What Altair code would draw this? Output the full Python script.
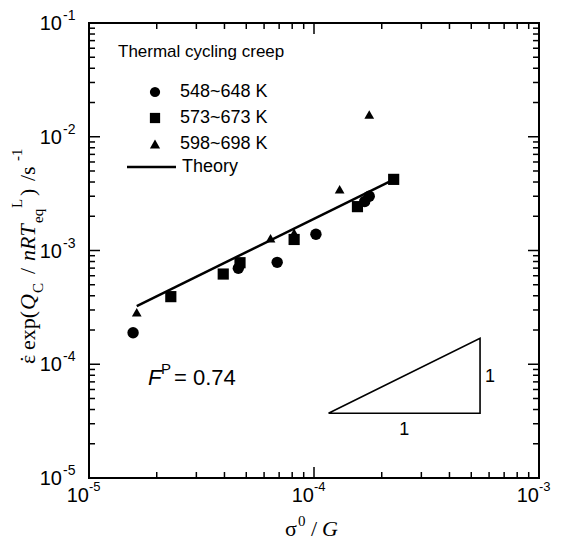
import altair as alt
import pandas as pd

# ---------------- data ----------------
series = ["548~648 K", "573~673 K", "598~698 K"]

s1_x = [1.57e-5, 4.61e-5, 6.86e-5, 1.02e-4, 1.68e-4, 1.76e-4]
s1_y = [1.89e-4, 6.97e-4, 7.87e-4, 1.39e-3, 2.70e-3, 3.00e-3]

s2_x = [2.31e-5, 3.95e-5, 4.69e-5, 8.16e-5, 1.56e-4, 2.26e-4]
s2_y = [3.93e-4, 6.21e-4, 7.81e-4, 1.25e-3, 2.43e-3, 4.22e-3]

s3_x = [1.63e-5, 6.41e-5, 8.16e-5, 1.30e-4, 1.76e-4]
s3_y = [2.86e-4, 1.28e-3, 1.43e-3, 3.45e-3, 1.57e-2]

theory_x = [1.63e-5, 2.27e-4]
theory_y = [3.25e-4, 4.22e-3]

tri_x = [1.16e-4, 5.47e-4, 5.47e-4, 1.16e-4]
tri_y = [3.71e-5, 3.71e-5, 1.69e-4, 3.71e-5]
tri_lab_x = [2.52e-4, 6.05e-4]
tri_lab_y = [2.64e-5, 7.67e-5]
tri_lab = ["1", "1"]

x_major = [1e-5, 1e-4, 1e-3]
x_exp = ["-5", "-4", "-3"]
y_major = [1e-5, 1e-4, 1e-3, 1e-2, 1e-1]
y_exp = ["-5", "-4", "-3", "-2", "-1"]
x_minor = [m * d for d in [1e-5, 1e-4] for m in range(2, 10)]
y_minor = [m * d for d in [1e-5, 1e-4, 1e-3, 1e-2] for m in range(2, 10)]

# ---------------- layout ----------------
W, H = 450, 455
OX, OY = 89, 23          # page position of the plot's top-left corner
SANS = "Liberation Sans"
SERIF = "Liberation Serif"
xs = alt.Scale(type="log", domain=[1e-5, 1e-3])
ys = alt.Scale(type="log", domain=[1e-5, 1e-1])
shape_scale = alt.Scale(domain=series, range=["circle", "square", "triangle-up"])

legend = alt.Legend(
    title="Thermal cycling creep", orient="none", legendX=118 - OX, legendY=21,
    titleFontSize=17, titleFontWeight="normal", titleFont=SANS, titleColor="black",
    titlePadding=22, titleLimit=400,
    labelFontSize=18, labelFont=SANS, labelColor="black", labelOffset=16,
    symbolSize=105, symbolFillColor="black", symbolStrokeColor="black",
    symbolOffset=28, rowPadding=8, padding=0, offset=0,
)

def series_layer(xv, yv, name, size):
    df = pd.DataFrame({"x": xv, "y": yv, "series": [name] * len(xv)})
    return alt.Chart(df).mark_point(filled=True, opacity=1, color="black", size=size).encode(
        x=alt.X("x:Q", scale=xs, axis=None),
        y=alt.Y("y:Q", scale=ys, axis=None),
        shape=alt.Shape("series:N", scale=shape_scale, legend=legend),
    )

p1 = series_layer(s1_x, s1_y, series[0], 130)
p2 = series_layer(s2_x, s2_y, series[1], 125)
p3 = series_layer(s3_x, s3_y, series[2], 95)

theory = alt.Chart(pd.DataFrame({"x": theory_x, "y": theory_y})).mark_line(
    color="black", strokeWidth=2.5
).encode(x=alt.X("x:Q", scale=xs, axis=None), y=alt.Y("y:Q", scale=ys, axis=None))

tri = alt.Chart(pd.DataFrame({"x": tri_x, "y": tri_y, "o": list(range(len(tri_x)))})).mark_line(
    color="black", strokeWidth=1.6
).encode(x=alt.X("x:Q", scale=xs, axis=None), y=alt.Y("y:Q", scale=ys, axis=None), order="o:Q")

tri_text = alt.Chart(pd.DataFrame({"x": tri_lab_x, "y": tri_lab_y, "t": tri_lab})).mark_text(
    font=SANS, fontSize=18, color="black", align="center", baseline="middle"
).encode(x=alt.X("x:Q", scale=xs, axis=None), y=alt.Y("y:Q", scale=ys, axis=None), text="t:N")

# ---------------- inward ticks on four sides ----------------
def xticks(vals, length):
    df = pd.DataFrame({"v": vals})
    out = []
    for ypos in (H - length / 2, length / 2):
        out.append(alt.Chart(df).mark_tick(color="black", thickness=1.5, size=length,
                                           orient="vertical", opacity=1).encode(
            x=alt.X("v:Q", scale=xs, axis=None), y=alt.value(ypos)))
    return out

def yticks(vals, length):
    df = pd.DataFrame({"v": vals})
    out = []
    for xpos in (length / 2, W - length / 2):
        out.append(alt.Chart(df).mark_tick(color="black", thickness=1.5, size=length,
                                           orient="horizontal", opacity=1).encode(
            y=alt.Y("v:Q", scale=ys, axis=None), x=alt.value(xpos)))
    return out

ticks = xticks(x_major, 11) + xticks(x_minor, 6) + yticks(y_major, 11) + yticks(y_minor, 6)

# ---------------- tick labels 10^n ----------------
xl = pd.DataFrame({"v": x_major, "e": x_exp, "b": ["10"] * len(x_major)})
x_lab10 = alt.Chart(xl).mark_text(font=SANS, fontSize=20, color="black", align="right",
                                  baseline="alphabetic").encode(
    x=alt.X("v:Q", scale=xs, axis=None), y=alt.value(479), text="b:N")
x_labE = alt.Chart(xl).mark_text(font=SANS, fontSize=13, color="black", align="left",
                                 baseline="alphabetic", dx=0).encode(
    x=alt.X("v:Q", scale=xs, axis=None), y=alt.value(468), text="e:N")

yl = pd.DataFrame({"v": y_major, "e": y_exp, "b": ["10"] * len(y_major)})
y_lab10 = alt.Chart(yl).mark_text(font=SANS, fontSize=20, color="black", align="right",
                                  baseline="alphabetic", dy=7).encode(
    y=alt.Y("v:Q", scale=ys, axis=None), x=alt.value(62 - OX), text="b:N")
y_labE = alt.Chart(yl).mark_text(font=SANS, fontSize=14, color="black", align="left",
                                 baseline="alphabetic", dy=-3).encode(
    y=alt.Y("v:Q", scale=ys, axis=None), x=alt.value(63 - OX), text="e:N")

# ---------------- free text pieces (page coordinates) ----------------
def piece(txt, px, py, size, font=SERIF, style="normal", angle=0):
    kw = dict(font=font, fontSize=size, fontStyle=style, color="black",
              align="left", baseline="alphabetic")
    if angle:
        kw["angle"] = angle
    return alt.Chart(pd.DataFrame({"t": [txt]})).mark_text(**kw).encode(
        x=alt.value(px - OX), y=alt.value(py - OY), text="t:N")

# y-axis title, read bottom to top
ytitle_parts = [
    ("\u03b5", 35, 364, 22, "normal"),
    ("\u02d9", 35, 362.8, 22, "normal"),
    ("exp(", 35, 350, 22, "normal"),
    ("Q", 35, 310, 22, "italic"),
    ("C", 43, 293, 15, "normal"),
    ("/", 35, 274, 22, "normal"),
    ("nRT", 35, 261, 22, "italic"),
    ("eq", 43, 223, 15, "normal"),
    ("L", 22, 208, 15, "normal"),
    (")", 35, 196, 22, "normal"),
    ("/s", 35, 181, 22, "normal"),
    ("-1", 22, 161, 15, "normal"),
]
ytitle = [piece(t, px, py, s, style=st, angle=270) for t, px, py, s, st in ytitle_parts]

xtitle = [
    piece("\u03c3", 285, 536, 22),
    piece("0", 298, 526, 15),
    piece("/", 311, 536, 22),
    piece("G", 322, 536, 22, style="italic"),
]

fp = [
    piece("F", 148, 385, 22, font=SANS, style="italic"),
    piece("P", 161, 374, 15, font=SANS),
    piece("= 0.74", 174, 385, 22, font=SANS),
]

legend_line = alt.Chart(pd.DataFrame({"t": ["Theory"]})).mark_rule(color="black", strokeWidth=2.5).encode(
    x=alt.value(127 - OX), x2=alt.value(176 - OX), y=alt.value(167 - OY))
legend_text = alt.Chart(pd.DataFrame({"t": ["Theory"]})).mark_text(
    font=SANS, fontSize=18, color="black", align="left", baseline="middle").encode(
    x=alt.value(182 - OX), y=alt.value(167 - OY), text="t:N")

chart = alt.layer(
    *ticks, tri, theory, p1, p2, p3, tri_text, x_lab10, x_labE, y_lab10, y_labE,
    *ytitle, *xtitle, *fp, legend_line, legend_text,
).properties(
    width=W, height=H,
    padding={"left": OX - 8, "top": OY - 8, "right": 14, "bottom": 64},
    autosize=alt.AutoSizeParams(type="none"),
    background="white",
).configure_view(stroke="black", strokeWidth=2)

chart.save("out.html", embed_options={"renderer": "svg", "actions": False})
